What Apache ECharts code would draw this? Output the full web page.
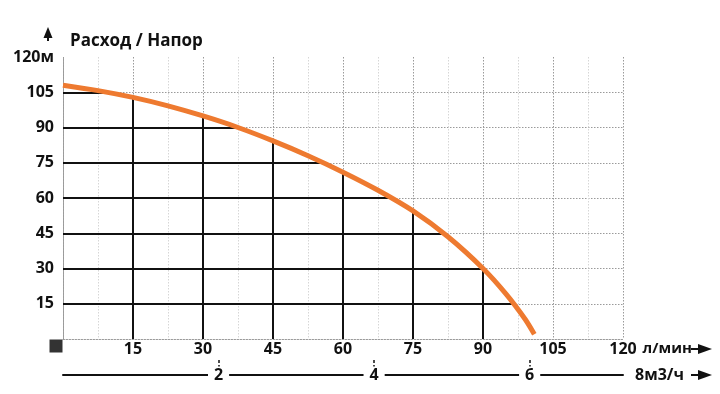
<!DOCTYPE html>
<html><head><meta charset="utf-8">
<script src="https://cdn.jsdelivr.net/npm/echarts@6/dist/echarts.min.js"></script>
<style>html,body{margin:0;padding:0;background:#fff}#c{width:720px;height:394px}</style>
</head><body><div id="c"></div>
<script>
// Flow (l/min) and head (m)
const flowLpm = [0, 7.5, 15, 22.5, 30, 37.5, 45, 52.5, 60, 67.5, 75, 82.5, 90, 95, 99, 101];
const headM   = [108, 105.7, 102.8, 99.2, 94.9, 90, 84.3, 78, 71, 63.3, 54.5, 43.5, 30, 19, 8.5, 2];
// grid levels drawn solid under the curve
const headLevels = [15, 30, 45, 60, 75, 90, 105];
const flowLevels = [15, 30, 45, 60, 75, 90];
const m3hTicks = [2, 4, 6];

const curve = flowLpm.map((x, i) => [x, headM[i]]);
function headAt(x) {
  for (let i = 0; i < flowLpm.length - 1; i++) {
    if (x >= flowLpm[i] && x <= flowLpm[i + 1]) {
      const t = (x - flowLpm[i]) / (flowLpm[i + 1] - flowLpm[i]);
      return headM[i] + t * (headM[i + 1] - headM[i]);
    }
  }
  return 0;
}
function flowAt(y) {
  for (let i = 0; i < headM.length - 1; i++) {
    if (y <= headM[i] && y >= headM[i + 1]) {
      const t = (headM[i] - y) / (headM[i] - headM[i + 1]);
      return flowLpm[i] + t * (flowLpm[i + 1] - flowLpm[i]);
    }
  }
  return 0;
}
const solidSegs = [];
headLevels.forEach(y => solidSegs.push({ coords: [[0, y], [flowAt(y), y]] }));
flowLevels.forEach(x => solidSegs.push({ coords: [[x, 0], [x, headAt(x)]] }));

const FONT = '"Open Sans", "Noto Sans", sans-serif';
const lbl = { fontFamily: FONT, fontWeight: 'bold', fontSize: 16, color: '#111' };
const dotted = { type: [1.5, 1.5], color: '#9a9a9a', width: 1 };
const hColors = [0,1,2,3,4,5,6,7,8].map(i => i === 8 ? 'rgba(0,0,0,0)' : '#9a9a9a');

const chart = echarts.init(document.getElementById('c'), null, { renderer: 'canvas' });
chart.setOption({
  animation: false,
  backgroundColor: '#fff',
  title: { text: 'Расход / Напор', left: 70, top: 33, padding: 0, textStyle: Object.assign({}, lbl, { fontSize: 17 }) },
  grid: { left: 63, right: 97, top: 57, bottom: 55 },
  xAxis: [{
    type: 'value', min: 0, max: 120, interval: 15,
    axisLine: { show: true, lineStyle: dotted },
    axisTick: { show: false },
    minorTick: { show: false, splitNumber: 2 },
    minorSplitLine: { show: true, lineStyle: { type: [1.5, 1.5], color: '#d6d6d6', width: 1 } },
    splitLine: { show: true, lineStyle: dotted },
    axisLabel: Object.assign({ margin: 2, formatter: v => v === 0 ? '' : String(v) }, lbl),
    name: 'л/мин', nameLocation: 'end', nameGap: 14,
    nameTextStyle: Object.assign({}, lbl, { fontSize: 15, align: 'left', verticalAlign: 'top', padding: [2, 0, 0, 0] })
  }, {
    type: 'value', min: 0, max: 7.2, position: 'bottom', offset: 36,
    axisLine: { show: true, lineStyle: { color: '#111', width: 2 } },
    axisTick: { show: true, customValues: m3hTicks, inside: true, length: 15, lineStyle: { color: '#111', width: 1.5, type: [4, 2] } },
    splitLine: { show: false },
    axisLabel: Object.assign({ customValues: m3hTicks, margin: 0, verticalAlign: 'middle', backgroundColor: '#fff', padding: [1, 6, 0, 6] }, lbl),
    name: '8м3/ч', nameLocation: 'end', nameGap: 12,
    nameTextStyle: Object.assign({ align: 'left', verticalAlign: 'middle' }, lbl)
  }],
  yAxis: {
    type: 'value', min: 0, max: 120, interval: 15,
    axisLine: { show: true, lineStyle: dotted },
    axisTick: { show: false },
    splitLine: { show: true, lineStyle: { type: [1.5, 1.5], color: hColors, width: 1 } },
    axisLabel: Object.assign({ margin: 9, formatter: v => v === 0 ? '' : (v === 120 ? '120м' : String(v)) }, lbl)
  },
  series: [{
    type: 'lines', coordinateSystem: 'cartesian2d', z: 3,
    lineStyle: { color: '#111', width: 2, opacity: 1 },
    data: solidSegs, silent: true
  }, {
    type: 'line', data: curve, smooth: 0.3, symbol: 'none', z: 5,
    lineStyle: { color: '#EE7A30', width: 5, cap: 'butt' }
  }, {
    type: 'scatter', data: [[0, 0]], symbol: 'rect', symbolSize: 13,
    symbolOffset: [-7, 7], itemStyle: { color: '#000' }, clip: false, z: 6
  }],
  graphic: [
    { type: 'polygon', shape: { points: [[48, 27], [43.5, 38], [52.5, 38]] }, style: { fill: '#111' } },
    { type: 'rect', shape: { x: 47, y: 37, width: 2, height: 4 }, style: { fill: '#111' } },
    { type: 'rect', shape: { x: 691, y: 348, width: 9, height: 2 }, style: { fill: '#111' } },
    { type: 'polygon', shape: { points: [[698, 344], [712, 349], [698, 354]] }, style: { fill: '#111' } },
    { type: 'rect', shape: { x: 691, y: 374, width: 9, height: 2 }, style: { fill: '#111' } },
    { type: 'polygon', shape: { points: [[698, 370], [712, 375], [698, 380]] }, style: { fill: '#111' } }
  ]
});
</script></body></html>
